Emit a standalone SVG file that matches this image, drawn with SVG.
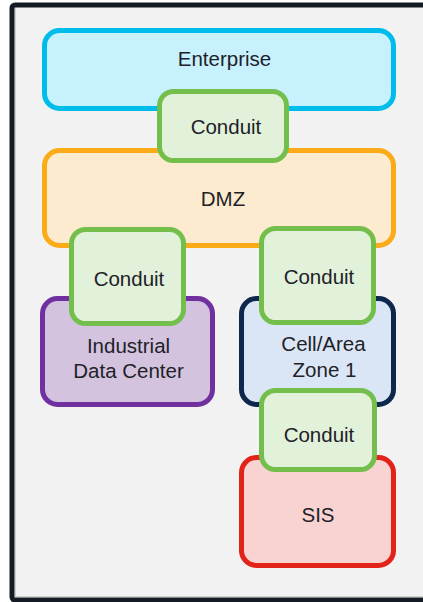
<svg xmlns="http://www.w3.org/2000/svg" width="423" height="602" viewBox="0 0 423 602">
<style>
.box{stroke-width:5}
.lbl{font-family:"Liberation Sans",Arial,sans-serif;font-size:20.5px;fill:#1e2228;text-anchor:middle}
.conduit{fill:#E2F1DA;stroke:#74BF4B;stroke-width:5}
</style>
<rect x="0" y="0" width="423" height="602" fill="#ffffff"/>
<rect id="frame" x="12" y="5" width="420" height="595" rx="3" fill="#F2F2F2" stroke="#141B22" stroke-width="5"/>
<line x1="15" y1="596.5" x2="423" y2="596.5" stroke="#cfcfcf" stroke-width="1"/>
<line x1="15.5" y1="8" x2="15.5" y2="597" stroke="#cfcfcf" stroke-width="1"/>
<g id="enterprise">
<rect class="box" x="44.5" y="30.5" width="349" height="78" rx="15" fill="#C6F1FD" stroke="#00BCEB"/>
<text class="lbl" x="224.5" y="66">Enterprise</text>
</g>
<g id="dmz">
<rect class="box" x="44.5" y="150.5" width="349" height="95" rx="15" fill="#FDEBCF" stroke="#FBAB18"/>
<text class="lbl" x="223" y="205.5">DMZ</text>
</g>
<g id="conduit1">
<rect class="conduit" x="159.5" y="91.5" width="127" height="69" rx="14"/>
<text class="lbl" x="226" y="134">Conduit</text>
</g>
<g id="industrial-dc">
<rect class="box" x="42.5" y="298.5" width="170" height="106" rx="15" fill="#D3C3DE" stroke="#7030A0"/>
<text class="lbl" x="128.5" y="353">Industrial</text>
<text class="lbl" x="128.5" y="377.5">Data Center</text>
</g>
<g id="cell-area-zone1">
<rect class="box" x="241.5" y="298.5" width="152" height="106" rx="15" fill="#DAE6F6" stroke="#0D274D"/>
<text class="lbl" x="323.5" y="351">Cell/Area</text>
<text class="lbl" x="324.5" y="376.5">Zone 1</text>
</g>
<g id="conduit2">
<rect class="conduit" x="71.5" y="229.5" width="112" height="94" rx="14"/>
<text class="lbl" x="129" y="285.5">Conduit</text>
</g>
<g id="conduit3">
<rect class="conduit" x="261.5" y="228.5" width="112" height="94" rx="14"/>
<text class="lbl" x="319" y="284">Conduit</text>
</g>
<g id="sis">
<rect class="box" x="241.5" y="457.5" width="152" height="108" rx="15" fill="#F9D3D1" stroke="#E2231A"/>
<text class="lbl" x="318" y="521.5">SIS</text>
</g>
<g id="conduit4">
<rect class="conduit" x="261.5" y="390.5" width="113" height="79" rx="14"/>
<text class="lbl" x="319" y="442">Conduit</text>
</g>
<g id="connectors"></g>
</svg>
